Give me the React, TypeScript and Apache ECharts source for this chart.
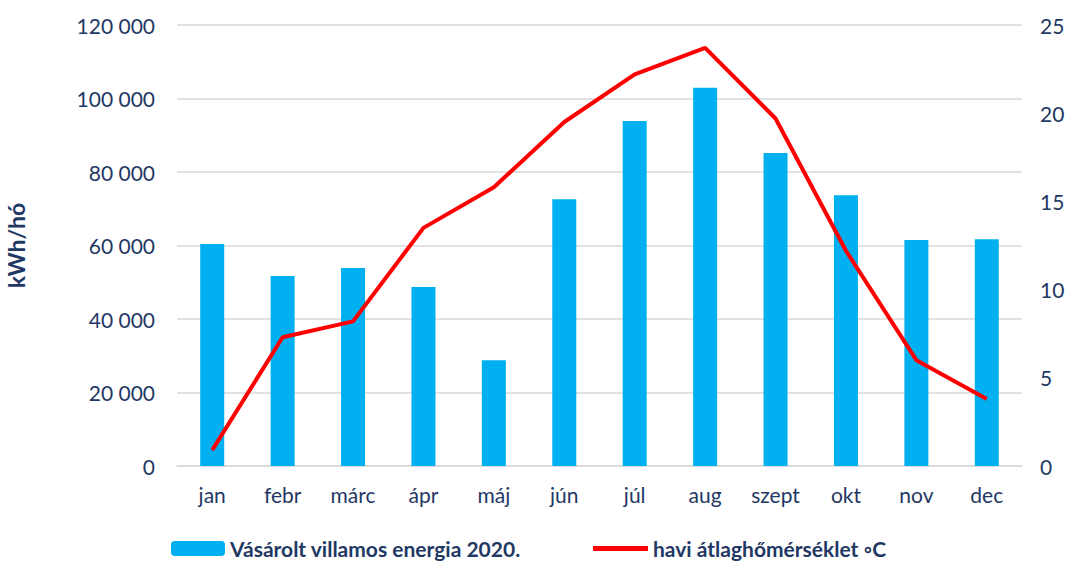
import React, { useEffect, useRef } from "react";
import * as echarts from "echarts";

const months = ["jan", "febr", "márc", "ápr", "máj", "jún", "júl", "aug", "szept", "okt", "nov", "dec"];
const energy = [60400, 51700, 53900, 48700, 28800, 72600, 93900, 102900, 85200, 73700, 61500, 61700];
const temperature = [0.9, 7.3, 8.2, 13.5, 15.8, 19.5, 22.2, 23.7, 19.7, 12.2, 6.0, 3.8];
const barName = "Vásárolt villamos energia 2020.";
const lineName = "havi átlaghőmérséklet ◦C";

const textColor = "#1F3864";
const font = "Lato, 'Open Sans', sans-serif";

function fmt(v: number): string {
  return String(v).replace(/\B(?=(\d{3})+(?!\d))/g, " ");
}

export default function App() {
  const ref = useRef<HTMLDivElement>(null);
  useEffect(() => {
    if (!ref.current) return;
    const chart = echarts.init(ref.current, undefined, { renderer: "svg" });
    chart.setOption({
      animation: false,
      textStyle: { fontFamily: font },
      grid: { left: 177, right: 48, top: 25, bottom: 96, containLabel: false, outerBoundsMode: "none" },
      legend: [
        {
          data: [barName],
          left: 166,
          top: 533,
          itemWidth: 54,
          itemHeight: 15,
          itemGap: 6,
          textStyle: { color: textColor, fontSize: 21, fontWeight: "bold", fontFamily: font },
          selectedMode: false,
        },
        {
          data: [{ name: lineName, icon: "rect" }],
          left: 588,
          top: 533,
          itemWidth: 55,
          itemHeight: 5,
          itemGap: 6,
          textStyle: { color: textColor, fontSize: 21, fontWeight: "bold", fontFamily: font },
          selectedMode: false,
        },
      ],
      xAxis: {
        type: "category",
        data: months,
        axisTick: { show: false },
        axisLine: { lineStyle: { color: "#D9D9D9", width: 1.5 } },
        axisLabel: { color: textColor, fontSize: 21, margin: 18, fontFamily: font },
      },
      yAxis: [
        {
          type: "value",
          min: 0,
          max: 120000,
          interval: 20000,
          name: "kWh/hó",
          nameLocation: "middle",
          nameGap: 150,
          nameRotate: 90,
          nameTextStyle: { color: textColor, fontSize: 23, fontWeight: "bold", fontFamily: font },
          axisLabel: { color: textColor, fontSize: 21, margin: 22, formatter: (v: number) => fmt(v), fontFamily: font },
          splitLine: { lineStyle: { color: "#D9D9D9", width: 1.5 } },
          axisLine: { show: false },
          axisTick: { show: false },
        },
        {
          type: "value",
          min: 0,
          max: 25,
          interval: 5,
          axisLabel: { color: textColor, fontSize: 21, margin: 18, fontFamily: font },
          splitLine: { show: false },
          axisLine: { show: false },
          axisTick: { show: false },
        },
      ],
      series: [
        {
          name: barName,
          type: "bar",
          data: energy,
          barWidth: 24,
          itemStyle: { color: "#00B0F0" },
        },
        {
          name: lineName,
          type: "line",
          yAxisIndex: 1,
          data: temperature,
          symbol: "none",
          lineStyle: { color: "#FF0000", width: 4 },
          itemStyle: { color: "#FF0000" },
        },
      ],
    });
    return () => chart.dispose();
  }, []);
  return <div ref={ref} style={{ width: 1070, height: 562, position: "absolute", left: 0, top: 0 }} />;
}
